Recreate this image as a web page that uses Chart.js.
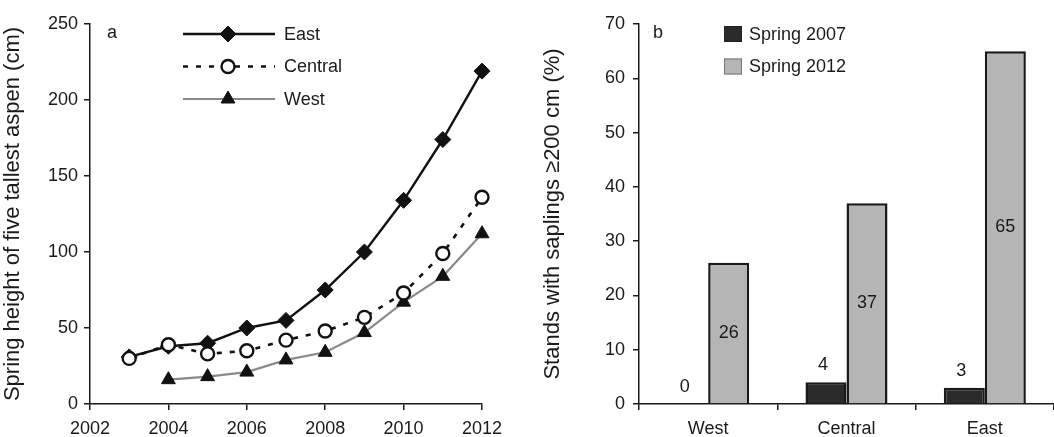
<!DOCTYPE html>
<html><head><meta charset="utf-8">
<script src="https://cdn.jsdelivr.net/npm/chart.js@4/dist/chart.umd.min.js"></script>
<style>
html,body{margin:0;padding:0;background:#fff;}
#wrap{position:relative;width:1054px;height:437px;overflow:hidden;}
canvas{position:absolute;top:0;}
</style></head>
<body><div id="wrap">
<canvas id="ca" width="540" height="437" style="left:0"></canvas>
<canvas id="cb" width="514" height="437" style="left:540px"></canvas>
</div>
<script>
// ---- Panel a data ----
const years = [2003, 2004, 2005, 2006, 2007, 2008, 2009, 2010, 2011, 2012];
const eastHeight = [31, 38, 40, 50, 55, 75, 100, 134, 174, 219];
const centralHeight = [30, 39, 33, 35, 42, 48, 57, 73, 99, 136];
const westHeight = [null, 16, 18, 21, 29, 34, 47, 67, 84, 112];
const xTickYears = [2002, 2004, 2006, 2008, 2010, 2012];
const yTicksA = [0, 50, 100, 150, 200, 250];

// ---- Panel b data ----
const regions = ['West', 'Central', 'East'];
const spring2007 = [0, 4, 3];
const spring2012 = [26, 37, 65];
const yTicksB = [0, 10, 20, 30, 40, 50, 60, 70];

const FONT = "'Liberation Sans', Arial, Helvetica, sans-serif";
const INK = '#1a1a1a';
Chart.defaults.font.family = FONT;
Chart.defaults.color = INK;
Chart.defaults.animation = false;

function pts(vals){ return years.map((y,i)=>({x:y, y:vals[i]})); }

const lineLegend = {
  id:'lineLegend',
  afterDraw(chart){
    const ctx = chart.ctx, ca = chart.chartArea;
    ctx.save();
    ctx.font = "18px " + FONT; ctx.fillStyle = INK; ctx.textBaseline='middle';
    ctx.fillText('a', ca.left + 17, ca.top + 9);
    const order = [1, 0, 2]; // East, Central, West
    const x0 = ca.left + 93, x1 = ca.left + 185, xm = ca.left + 138;
    order.forEach((di, r) => {
      const ds = chart.data.datasets[di];
      const y = ca.top + 10 + r * 32.5;
      ctx.beginPath();
      ctx.strokeStyle = ds.borderColor; ctx.lineWidth = ds.borderWidth;
      ctx.setLineDash(ds.borderDash || []);
      ctx.moveTo(x0, y); ctx.lineTo(x1, y); ctx.stroke();
      ctx.setLineDash([]);
      ctx.save();
      ctx.fillStyle = ds.pointBackgroundColor; ctx.strokeStyle = ds.pointBorderColor; ctx.lineWidth = ds.pointBorderWidth;
      Chart.helpers.drawPoint(ctx, {pointStyle: ds.pointStyle, radius: ds.pointRadius, borderWidth: ds.pointBorderWidth, rotation:0}, xm, y);
      ctx.restore();
      ctx.fillStyle = INK;
      ctx.fillText(ds.label, ca.left + 194, y + 1);
    });
    ctx.restore();
  }
};

new Chart(document.getElementById('ca'), {
  type:'line',
  data:{datasets:[
    {label:'Central', data:pts(centralHeight), borderColor:'#111', borderWidth:2.6, borderDash:[5,8], clip:false,
     pointStyle:'circle', pointRadius:6.5, pointBorderWidth:2.4, pointBackgroundColor:'#fff', pointBorderColor:'#111', order:0},
    {label:'East', data:pts(eastHeight), borderColor:'#111', borderWidth:2.4, clip:false,
     pointStyle:'rectRot', pointRadius:8, pointBorderWidth:1, pointBackgroundColor:'#111', pointBorderColor:'#111', order:1},
    {label:'West', data:pts(westHeight), borderColor:'#8a8a8a', borderWidth:2.2, clip:false,
     pointStyle:'triangle', pointRadius:8, pointBorderWidth:1, pointBackgroundColor:'#111', pointBorderColor:'#111', order:2}
  ]},
  options:{
    responsive:false, devicePixelRatio:1,
    layout:{padding:{top:24, right:58, left:0, bottom:0}},
    plugins:{legend:{display:false}, tooltip:{enabled:false}},
    scales:{
      x:{type:'linear', min:xTickYears[0], max:xTickYears[xTickYears.length-1],
         afterBuildTicks(s){ s.ticks = xTickYears.map(v=>({value:v})); },
         afterFit(s){ s.height = 33; },
         ticks:{font:{size:18}, color:INK, padding:8, maxRotation:0, callback:v=>String(v)},
         grid:{drawOnChartArea:false, tickLength:6, color:INK, lineWidth:1.5},
         border:{color:INK, width:1.5}},
      y:{min:0, max:250,
         afterBuildTicks(s){ s.ticks = yTicksA.map(v=>({value:v})); },
         afterFit(s){ s.width = 90; },
         ticks:{font:{size:18}, color:INK, padding:6},
         grid:{drawOnChartArea:false, tickLength:6, color:INK, lineWidth:1.5},
         border:{color:INK, width:1.5},
         title:{display:true, text:'Spring height of five tallest aspen (cm)', font:{size:22}, color:INK, padding:{top:0,bottom:2}}}
    }
  },
  plugins:[lineLegend]
});

const barExtras = {
  id:'barExtras',
  afterDatasetsDraw(chart){
    const ctx = chart.ctx, ca = chart.chartArea;
    ctx.save();
    ctx.font = "18px " + FONT; ctx.fillStyle = INK; ctx.textAlign='center'; ctx.textBaseline='middle';
    chart.getDatasetMeta(0).data.forEach((el,i)=>{
      ctx.fillText(String(spring2007[i]), el.x - 3, el.y - 17);
    });
    chart.getDatasetMeta(1).data.forEach((el,i)=>{
      ctx.fillText(String(spring2012[i]), el.x, (el.y + el.base)/2);
    });
    ctx.textAlign='left';
    ctx.fillText('b', ca.left + 14, ca.top + 9);
    chart.data.datasets.forEach((ds, r)=>{
      const y = ca.top + 10 + r * 32.5;
      const x = ca.left + 85;
      ctx.fillStyle = ds.backgroundColor;
      ctx.fillRect(x, y - 8, 18, 16);
      ctx.strokeStyle = r === 0 ? '#222' : '#777'; ctx.lineWidth = 1;
      ctx.strokeRect(x + 0.5, y - 7.5, 17, 15);
      ctx.fillStyle = INK;
      ctx.fillText(ds.label, ca.left + 110, y + 1);
    });
    ctx.restore();
  }
};

new Chart(document.getElementById('cb'), {
  type:'bar',
  data:{labels:regions, datasets:[
    {label:'Spring 2007', data:spring2007, backgroundColor:'#2b2b2b', borderColor:'#1a1a1a', borderWidth:2.5, borderSkipped:'bottom'},
    {label:'Spring 2012', data:spring2012, backgroundColor:'#b5b5b5', borderColor:'#1a1a1a', borderWidth:2.5, borderSkipped:'bottom'}
  ]},
  options:{
    responsive:false, devicePixelRatio:1,
    layout:{padding:{top:24, right:0, left:0, bottom:0}},
    plugins:{legend:{display:false}, tooltip:{enabled:false}},
    datasets:{bar:{categoryPercentage:0.593, barPercentage:1}},
    scales:{
      x:{afterFit(s){ s.height = 33; },
         ticks:{font:{size:18}, color:INK, padding:8},
         grid:{drawOnChartArea:false, tickLength:6, color:INK, lineWidth:1.5, offset:true},
         border:{color:INK, width:1.5}},
      y:{min:0, max:70,
         afterBuildTicks(s){ s.ticks = yTicksB.map(v=>({value:v})); },
         afterFit(s){ s.width = 99; },
         ticks:{font:{size:18}, color:INK, padding:8},
         grid:{drawOnChartArea:false, tickLength:6, color:INK, lineWidth:1.5},
         border:{color:INK, width:1.5},
         title:{display:true, text:'Stands with saplings \u2265200 cm (%)', font:{size:22}, color:INK, padding:{top:0,bottom:2}}}
    }
  },
  plugins:[barExtras]
});
</script>
</body></html>
